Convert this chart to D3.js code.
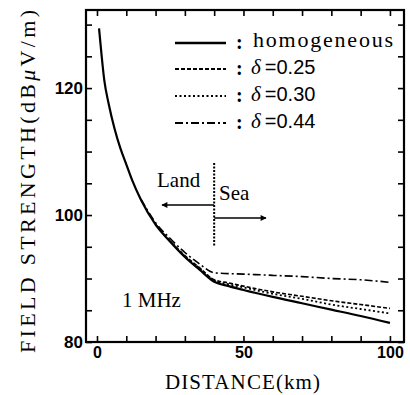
<!DOCTYPE html>
<html>
<head>
<meta charset="utf-8">
<script src="https://cdn.jsdelivr.net/npm/d3@7"></script>
<style>
body{margin:0;background:#fff;}
svg{display:block;}
</style>
</head>
<body>
<svg id="c" width="410" height="395"></svg>
<script>
// ---- data ----
const homogeneous = [[0.7,129.4],[1.5,125.5],[2.5,121.2],[4,117.5],[6,113.6],[8,110.5],[10,108],[12,105.5],[15,102.4],[20,98.5],[25,95.8],[30,93.4],[35,91.4],[40,89.5],[45,88.8],[50,88.2],[60,87.1],[70,86.1],[80,85.1],[90,84.1],[100,83.0]];
const delta025 = [[20,98.5],[25,95.9],[30,93.6],[35,91.7],[40,89.8],[45,89.3],[50,88.8],[60,87.9],[70,87.2],[80,86.5],[90,85.9],[100,85.3]];
const delta030 = [[20,98.5],[25,95.9],[30,93.5],[35,91.6],[40,89.7],[45,89.1],[50,88.6],[60,87.6],[70,86.8],[80,85.9],[90,85.2],[100,84.5]];
const delta044 = [[15,102.5],[20,98.8],[25,96.3],[30,94.1],[35,92.3],[40,90.9],[50,90.7],[60,90.5],[70,90.3],[80,90.0],[90,89.8],[100,89.4]];
const legendLabels = ["homogeneous","=0.25","=0.30","=0.44"];
const xTicks = [0,10,20,30,40,50,60,70,80,90,100];
const xLabels = [0,50,100];
const yTicks = [80,85,90,95,100,105,110,115,120,125,130];
const yLabels = [80,100,120];

const svg = d3.select("#c");
const L=86,R=404,T=10,B=342;
const x = d3.scaleLinear().domain([-3.75,104.8]).range([L,R]);
const y = d3.scaleLinear().domain([80,132.3]).range([B,T]);

// axes
const fmtX = d => xLabels.includes(d) ? d : "";
const fmtY = d => yLabels.includes(d) ? d : "";
const gb = svg.append("g").attr("transform",`translate(0,${B})`)
  .call(d3.axisBottom(x).tickValues(xTicks).tickSizeInner(-6).tickSizeOuter(0).tickPadding(5).tickFormat(fmtX));
const gt = svg.append("g").attr("transform",`translate(0,${T})`)
  .call(d3.axisTop(x).tickValues(xTicks).tickSizeInner(-6).tickSizeOuter(0).tickFormat(""));
const gl = svg.append("g").attr("transform",`translate(${L},0)`)
  .call(d3.axisLeft(y).tickValues(yTicks).tickSizeInner(-6).tickSizeOuter(0).tickPadding(3).tickFormat(fmtY));
const gr = svg.append("g").attr("transform",`translate(${R},0)`)
  .call(d3.axisRight(y).tickValues(yTicks).tickSizeInner(-6).tickSizeOuter(0).tickFormat(""));
[gb,gt,gl,gr].forEach(g=>{
  g.select(".domain").remove();
  g.selectAll(".tick line").attr("stroke","#000").attr("stroke-width",1.6);
});
gb.selectAll(".tick text").attr("font-family","Liberation Sans, Arial, sans-serif").attr("font-size",16).attr("fill","#000").attr("font-weight","bold");
gl.selectAll(".tick text").attr("font-family","Liberation Sans, Arial, sans-serif").attr("font-size",17).attr("fill","#000").attr("font-weight","bold");

svg.append("rect").attr("x",L).attr("y",T).attr("width",R-L).attr("height",B-T)
  .attr("fill","none").attr("stroke","#000").attr("stroke-width",2.2);

// curves
const line = d3.line().x(d=>x(d[0])).y(d=>y(d[1])).curve(d3.curveMonotoneX);
const series = [
  {data:homogeneous, dash:null, w:2.2},
  {data:delta025, dash:"4,2", w:1.6},
  {data:delta030, dash:"2,2.5", w:1.8},
  {data:delta044, dash:"8,3,2,3", w:1.6}
];
series.forEach(s=>{
  svg.append("path").attr("d",line(s.data)).attr("fill","none").attr("stroke","#000")
    .attr("stroke-width",s.w).attr("stroke-dasharray",s.dash);
});

// legend
const legY = [43,69,96,123];
series.forEach((s,i)=>{
  svg.append("line").attr("x1",175).attr("x2",226).attr("y1",legY[i]).attr("y2",legY[i])
    .attr("stroke","#000").attr("stroke-width",s.w+0.4).attr("stroke-dasharray",s.dash);
  svg.append("text").attr("x",236).attr("y",legY[i]+6).text(":")
    .attr("font-family","Liberation Serif, serif").attr("font-size",20).attr("font-weight","bold");
  if(i===0){
    svg.append("text").attr("x",253).attr("y",legY[i]+4).text(legendLabels[i])
      .attr("font-family","Liberation Serif, serif").attr("font-size",22)
      .attr("textLength",140).attr("lengthAdjust","spacing");
  } else {
    const t = svg.append("text").attr("x",251).attr("y",legY[i]+5);
    t.append("tspan").text("δ").attr("font-family","Liberation Serif, serif").attr("font-style","italic").attr("font-size",21);
    t.append("tspan").attr("dx",4).text(legendLabels[i]).attr("font-family","Liberation Sans, Arial, sans-serif").attr("font-size",20);
  }
});

// land / sea boundary
const bx = x(40);
svg.append("line").attr("x1",bx).attr("x2",bx).attr("y1",163).attr("y2",247)
  .attr("stroke","#000").attr("stroke-width",2).attr("stroke-dasharray","2,1.5");
svg.append("defs").append("marker").attr("id","ah").attr("viewBox","0 0 10 10").attr("refX",9).attr("refY",5)
  .attr("markerWidth",7).attr("markerHeight",6).attr("markerUnits","userSpaceOnUse").attr("orient","auto")
  .append("path").attr("d","M0,0L10,5L0,10Z").attr("fill","#000");
svg.append("line").attr("x1",bx).attr("x2",162).attr("y1",205).attr("y2",205)
  .attr("stroke","#000").attr("stroke-width",1.4).attr("marker-end","url(#ah)");
svg.append("line").attr("x1",bx).attr("x2",266).attr("y1",218).attr("y2",218)
  .attr("stroke","#000").attr("stroke-width",1.4).attr("marker-end","url(#ah)");
svg.append("text").attr("x",157).attr("y",187).text("Land")
  .attr("font-family","Liberation Serif, serif").attr("font-size",21);
svg.append("text").attr("x",219).attr("y",200).text("Sea")
  .attr("font-family","Liberation Serif, serif").attr("font-size",21);
svg.append("text").attr("x",122).attr("y",307).text("1 MHz")
  .attr("font-family","Liberation Serif, serif").attr("font-size",21);

// axis titles
svg.append("text").attr("x",165).attr("y",389).text("DISTANCE(km)")
  .attr("font-family","Liberation Serif, serif").attr("font-size",21)
  .attr("textLength",155).attr("lengthAdjust","spacing");
const yt = svg.append("text").attr("transform","translate(35,353) rotate(-90)")
  .attr("font-family","Liberation Serif, serif").attr("font-size",22)
  .attr("textLength",343).attr("lengthAdjust","spacing");
yt.append("tspan").text("FIELD STRENGTH(dB");
yt.append("tspan").text("μ").attr("font-style","italic");
yt.append("tspan").text("V/m)");
</script>
</body>
</html>
